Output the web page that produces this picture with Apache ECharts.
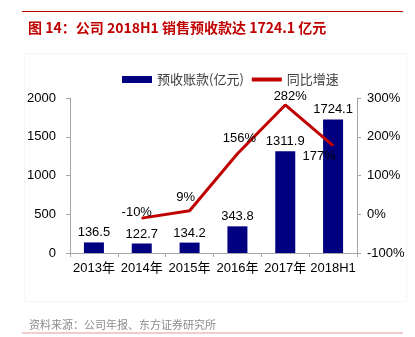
<!DOCTYPE html>
<html>
<head>
<meta charset="utf-8">
<script src="https://cdn.jsdelivr.net/npm/echarts@6/dist/echarts.min.js"></script>
<style>
  html, body { margin: 0; padding: 0; background: #fff; }
  #chart { width: 415px; height: 337px; }
</style>
</head>
<body>
<div id="chart"></div>
<script>
// Categories and values
var categories = ['2013年', '2014年', '2015年', '2016年', '2017年', '2018H1'];
var advanceReceipts = [136.5, 122.7, 134.2, 343.8, 1311.9, 1724.1];   // 亿元
var yoyGrowth = [null, -10, 9, 156, 282, 177];                        // %
var leftTicks = { min: 0, max: 2000, interval: 500 };
var rightTicks = { min: -100, max: 300, interval: 100 };

// Per-point offsets for the growth labels (pixels from the point)
var growthLabelOffsets = [[0, 0], [-5, -6], [-4, -13], [2, -15], [5, -9], [-14, 11]];

var FONT = '"Liberation Sans", Arial, "Noto Sans CJK SC", sans-serif';
var RED = '#c00000';
var NAVY = '#000080';
var AXIS_GRAY = '#a6a6a6';

var chart = echarts.init(document.getElementById('chart'), null, { renderer: 'canvas' });

var growthData = yoyGrowth.map(function (v, i) {
  return {
    value: v,
    label: { offset: growthLabelOffsets[i] }
  };
});

chart.setOption({
  animation: false,
  backgroundColor: '#fff',
  title: [{
    text: '图 14：公司 2018H1 销售预收款达 1724.1 亿元',
    left: 23,
    top: 16,
    textStyle: { color: RED, fontSize: 14, fontWeight: 'bold', fontFamily: '"Noto Sans CJK SC", "Liberation Sans", sans-serif' }
  }, {
    text: '资料来源：公司年报、东方证券研究所',
    left: 24,
    top: 314,
    textStyle: { color: '#8c8c8c', fontSize: 11, fontWeight: 'normal', fontFamily: '"Noto Sans CJK SC", sans-serif' }
  }],
  graphic: [
    { type: 'line', shape: { x1: 22, y1: 11.5, x2: 403, y2: 11.5 }, style: { stroke: RED, lineWidth: 1 } },
    { type: 'line', shape: { x1: 22, y1: 333, x2: 403, y2: 333 }, style: { stroke: '#f2b8b8', lineWidth: 1.5 } },
    { type: 'rect', shape: { x: 24.5, y: 53.5, width: 382, height: 248 }, style: { fill: 'none', stroke: '#f6f6f6', lineWidth: 1 }, z: -1 }
  ],
  legend: {
    left: 117,
    top: 68,
    itemGap: 6,
    itemWidth: 30,
    itemHeight: 7,
    textStyle: { color: '#404040', fontSize: 13, fontFamily: '"Noto Sans CJK SC", sans-serif' },
    data: [
      { name: '预收账款(亿元)', icon: 'rect' },
      { name: '同比增速', itemStyle: { opacity: 0 }, lineStyle: { width: 4 } }
    ]
  },
  grid: { left: 70, right: 58, top: 98, bottom: 84, containLabel: false },
  xAxis: {
    type: 'category',
    data: categories,
    boundaryGap: true,
    axisLine: { lineStyle: { color: AXIS_GRAY, width: 1 } },
    axisTick: { show: true, alignWithLabel: false, length: 4, lineStyle: { color: AXIS_GRAY } },
    axisLabel: { color: '#000', fontSize: 13, fontFamily: FONT, margin: 9, interval: 0 },
    splitLine: { show: false }
  },
  yAxis: [{
    type: 'value',
    position: 'left',
    min: leftTicks.min, max: leftTicks.max, interval: leftTicks.interval,
    axisLine: { show: true, lineStyle: { color: AXIS_GRAY, width: 1 } },
    axisTick: { show: true, length: 4, lineStyle: { color: AXIS_GRAY } },
    axisLabel: { color: '#000', fontSize: 13, fontFamily: FONT, margin: 14, formatter: function (v) { return String(v); } },
    splitLine: { show: false }
  }, {
    type: 'value',
    position: 'right',
    min: rightTicks.min, max: rightTicks.max, interval: rightTicks.interval,
    axisLine: { show: true, lineStyle: { color: AXIS_GRAY, width: 1 } },
    axisTick: { show: true, length: 4, lineStyle: { color: AXIS_GRAY } },
    axisLabel: { color: '#000', fontSize: 13, fontFamily: FONT, margin: 10, formatter: function (v) { return v + '%'; } },
    splitLine: { show: false }
  }],
  series: [{
    name: '预收账款(亿元)',
    type: 'bar',
    data: advanceReceipts,
    barWidth: 20,
    itemStyle: { color: NAVY },
    label: {
      show: true,
      position: 'top',
      distance: 3,
      color: '#000',
      fontSize: 13,
      fontFamily: FONT
    },
    z: 2
  }, {
    name: '同比增速',
    type: 'line',
    yAxisIndex: 1,
    data: growthData,
    symbol: 'circle',
    symbolSize: 1,
    showSymbol: true,
    connectNulls: false,
    lineStyle: { color: RED, width: 3 },
    itemStyle: { color: RED },
    label: {
      show: true,
      position: 'inside',
      color: '#000',
      fontSize: 13,
      fontFamily: FONT,
      formatter: function (p) { return p.value == null ? '' : p.value + '%'; }
    },
    z: 3
  }]
});
</script>
</body>
</html>
